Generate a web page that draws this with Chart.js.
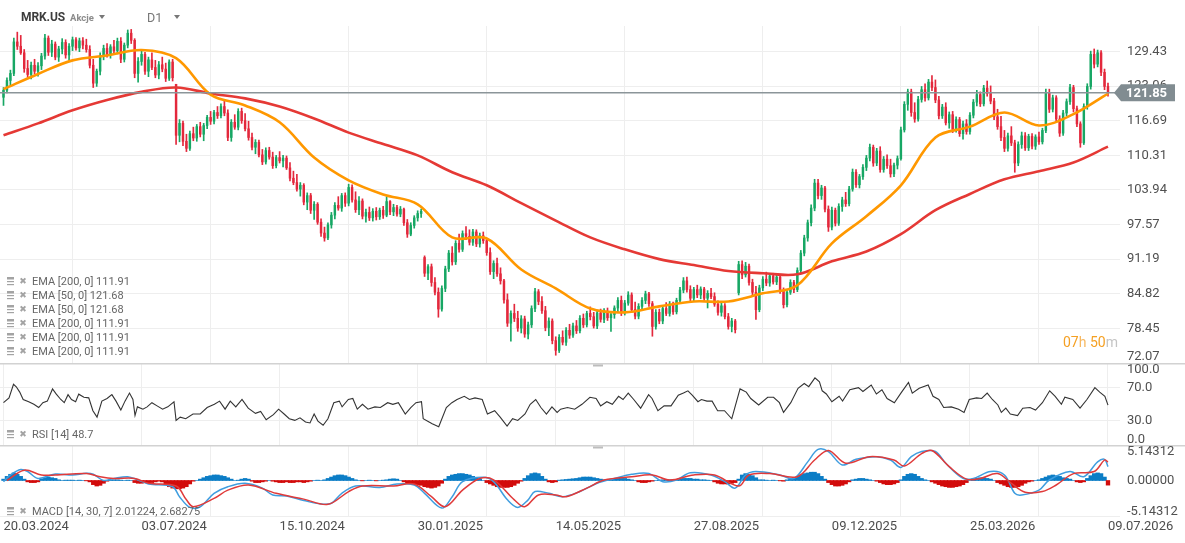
<!DOCTYPE html>
<html>
<head>
<meta charset="utf-8">
<script src="https://cdn.jsdelivr.net/npm/chart.js@4.4.1/dist/chart.umd.min.js"></script>
<style>
  body { margin: 0; background: #fff; width: 1185px; height: 543px; overflow: hidden; position: relative; font-family: Roboto, sans-serif; }
  canvas { position: absolute; left: 0; }
  .hd { position: absolute; white-space: nowrap; }
  .tri { position: absolute; width: 0; height: 0; border-left: 3.5px solid transparent; border-right: 3.5px solid transparent; border-top: 4px solid #777; }
</style>
</head>
<body>
<canvas id="macd" width="1185" height="98" style="top:445px"></canvas>
<canvas id="rsi" width="1185" height="82" style="top:363px"></canvas>
<canvas id="main" width="1185" height="363" style="top:0"></canvas>
<div class="hd" style="left:21px;top:10px;font-size:12px;font-weight:bold;color:#3d3d3d;letter-spacing:-0.1px">MRK.US</div>
<div class="hd" style="left:70px;top:12px;font-size:9.5px;font-weight:bold;color:#8c8c8c">Akcje</div>
<div class="tri" style="left:99px;top:15px"></div>
<div class="hd" style="left:147px;top:10px;font-size:12.5px;color:#777">D1</div>
<div class="tri" style="left:174px;top:15px"></div>
<script>
// ---- data ----
const dateLabels = ["20.03.2024", "03.07.2024", "15.10.2024", "30.01.2025", "14.05.2025", "27.08.2025", "09.12.2025", "25.03.2026", "09.07.2026"];
const dateIdx = [0, 40, 80, 120, 160, 200, 240, 280, 320];
const priceTicks = [72.07, 78.45, 84.82, 91.19, 97.57, 103.94, 110.31, 116.69, 123.06, 129.43];
const lastPrice = 121.85;

// [open, high, low, close]
const candles = [
[121.0,122.8,119.5,122.3],[122.3,124.6,121.8,124.1],[124.1,126.0,123.2,125.4],[125.4,131.9,125.0,131.2],[131.2,133.0,129.8,130.4],[130.4,132.4,128.9,129.2],[129.2,129.8,125.6,126.3],[126.3,127.8,124.7,125.2],[125.2,127.5,124.4,126.9],[126.9,128.0,125.3,125.8],
[125.8,127.4,124.9,126.8],[126.8,129.1,126.1,128.6],[128.6,132.6,128.0,131.9],[131.9,132.3,128.7,129.3],[129.3,131.5,128.5,130.8],[130.8,131.2,127.9,128.4],[128.4,130.4,127.6,129.9],[129.9,131.8,129.0,131.1],[131.1,131.6,128.2,128.8],[128.8,130.9,127.8,130.4],
[130.4,132.1,129.6,131.6],[131.6,132.0,129.7,130.1],[130.1,131.9,129.4,131.4],[131.4,132.0,129.9,130.6],[130.6,131.7,129.3,129.8],[129.8,130.5,126.4,126.9],[126.9,128.0,122.8,123.6],[123.6,126.2,123.0,125.8],[125.8,129.2,125.1,128.7],[128.7,130.6,127.9,130.0],
[130.0,130.9,128.4,128.9],[128.9,130.7,128.2,130.3],[130.3,131.5,129.1,129.6],[129.6,131.9,129.0,131.3],[131.3,132.0,127.4,128.0],[128.0,131.0,127.5,130.6],[130.6,133.4,130.1,132.8],[132.8,133.5,130.9,131.5],[131.5,131.8,124.6,125.4],[125.4,128.3,123.8,127.6],
[127.6,129.5,126.9,128.9],[128.9,129.3,125.2,125.8],[125.8,128.4,124.8,127.9],[127.9,129.2,126.1,126.5],[126.5,127.8,124.6,125.1],[125.1,127.6,124.4,127.0],[127.0,128.4,125.7,126.2],[126.2,127.3,123.9,124.5],[124.5,127.9,124.1,127.5],[127.5,128.0,124.0,124.6],
[123.4,123.4,112.3,114.0],[114.0,116.9,112.8,116.2],[116.2,116.6,112.1,112.9],[112.9,114.2,111.0,111.6],[111.6,114.8,111.2,114.3],[114.3,115.5,113.0,113.5],[113.5,116.0,112.9,115.6],[115.6,116.4,113.7,114.2],[114.2,116.2,113.0,115.8],[115.8,117.7,115.2,117.3],
[117.3,118.4,116.0,116.6],[116.6,118.6,116.1,118.2],[118.2,119.3,117.1,117.6],[117.6,119.8,117.2,119.3],[119.3,120.4,117.6,118.1],[118.1,118.7,113.0,113.6],[113.6,116.9,112.9,116.4],[116.4,117.8,115.1,115.5],[115.5,118.9,115.0,118.4],[118.4,119.0,116.2,116.7],
[116.7,118.0,114.8,115.2],[115.2,116.6,113.1,113.6],[113.6,114.4,111.3,111.8],[111.8,113.2,110.6,112.7],[112.7,113.1,110.0,110.4],[110.4,111.4,108.6,109.1],[109.1,111.7,108.7,111.2],[111.2,111.8,109.6,110.0],[110.0,110.9,107.9,108.4],[108.4,110.3,108.0,109.9],
[109.9,111.0,108.9,109.3],[109.3,110.3,108.2,109.8],[109.8,110.2,107.7,108.0],[108.0,109.0,105.6,106.1],[106.1,107.4,104.9,105.3],[105.3,106.8,103.7,104.1],[104.1,105.3,102.8,104.8],[104.8,105.1,101.2,101.7],[101.7,103.4,100.3,102.9],[102.9,103.3,99.6,100.2],
[100.2,101.8,98.5,101.3],[101.3,101.6,97.6,98.0],[98.0,98.6,95.4,96.0],[96.0,97.1,94.5,95.1],[95.1,97.9,94.8,97.5],[97.5,99.8,96.9,99.3],[99.3,101.6,98.6,101.1],[101.1,102.7,100.2,100.6],[100.6,103.3,100.0,102.9],[102.9,103.4,100.9,101.5],
[101.5,105.0,101.0,104.4],[104.4,104.9,101.7,102.1],[102.1,103.6,99.8,100.3],[100.3,102.7,99.4,101.9],[101.9,102.3,98.6,99.1],[99.1,100.4,98.0,99.8],[99.8,100.8,98.3,98.8],[98.8,100.5,98.2,100.0],[100.0,100.7,98.4,99.0],[99.0,100.6,98.5,100.2],
[100.2,100.9,98.7,99.3],[99.3,102.7,99.0,101.8],[101.8,102.0,99.4,99.9],[99.9,101.3,99.2,100.7],[100.7,101.1,99.1,99.5],[99.5,100.9,99.0,100.4],[100.4,100.6,97.4,97.9],[97.9,98.5,95.2,95.8],[95.8,97.9,95.5,97.4],[97.4,99.2,96.9,98.8],
[98.8,100.1,98.2,99.6],[99.6,100.4,98.9,100.0],[91.5,91.8,88.0,88.6],[88.6,90.2,87.4,89.8],[89.8,90.3,86.2,86.9],[86.9,87.8,84.6,85.1],[85.1,85.9,80.5,82.0],[82.0,86.3,81.6,85.8],[85.8,89.9,85.2,89.4],[89.4,92.8,88.9,92.3],
[92.3,93.5,90.1,90.7],[90.7,94.6,90.2,94.1],[94.1,95.8,92.5,93.0],[93.0,96.4,92.6,95.9],[95.9,97.2,94.8,95.4],[95.4,96.6,93.8,94.3],[94.3,96.7,93.7,96.2],[96.2,96.6,93.5,94.0],[94.0,96.0,93.4,95.5],[95.5,96.2,94.1,94.6],
[94.6,95.0,91.9,92.4],[92.4,93.3,88.4,88.9],[88.9,90.9,87.6,90.4],[90.4,91.4,88.0,88.5],[88.5,89.6,86.6,87.2],[87.2,87.5,83.1,83.7],[83.7,84.8,78.8,79.4],[79.4,81.7,76.1,81.2],[81.2,82.9,79.7,80.3],[80.3,81.6,77.9,78.5],
[78.5,80.8,77.6,80.2],[80.2,80.7,76.8,77.4],[77.4,79.6,76.5,79.1],[79.1,82.6,78.6,82.1],[82.1,85.8,81.5,85.2],[85.2,85.6,82.8,83.4],[83.4,84.3,81.2,81.7],[81.7,82.5,78.0,78.6],[78.6,80.4,77.1,79.8],[79.8,80.2,75.6,76.2],
[76.2,76.9,73.5,74.4],[74.4,77.3,74.0,76.8],[76.8,78.0,75.4,75.9],[75.9,78.6,75.3,78.1],[78.1,79.2,76.6,77.2],[77.2,79.4,76.8,78.9],[78.9,79.9,77.5,78.0],[78.0,80.8,77.6,80.3],[80.3,81.1,78.6,79.1],[79.1,81.6,78.7,81.2],
[81.2,82.4,80.0,80.6],[80.6,81.4,78.5,78.9],[78.9,81.8,78.4,81.3],[81.3,82.0,79.6,80.1],[80.1,82.1,79.5,81.6],[81.6,82.2,79.9,80.4],[80.4,81.5,77.9,81.0],[81.0,82.6,80.3,82.2],[82.2,84.1,81.5,83.6],[83.6,84.4,80.8,81.3],
[81.3,83.6,80.9,83.1],[83.1,85.2,82.7,84.6],[84.6,85.0,81.4,81.9],[81.9,83.3,80.2,80.7],[80.7,83.0,80.2,82.5],[82.5,84.1,81.8,83.6],[83.6,85.3,83.0,84.8],[84.8,85.1,82.5,83.0],[83.0,83.4,77.0,78.8],[78.8,81.9,78.3,81.4],
[81.4,82.0,79.3,79.8],[79.8,82.5,79.3,82.1],[82.1,83.2,80.8,81.2],[81.2,83.4,80.7,82.9],[82.9,83.3,81.0,81.5],[81.5,84.0,81.1,83.6],[83.6,86.0,83.2,85.5],[85.5,87.8,85.0,87.2],[87.2,87.9,85.1,85.6],[85.6,86.3,83.5,84.0],
[84.0,86.0,83.4,85.6],[85.6,86.4,84.1,84.6],[84.6,86.1,83.9,85.7],[85.7,86.0,83.6,84.0],[84.0,85.4,82.2,84.9],[84.9,85.8,83.9,84.3],[84.3,85.0,82.5,82.9],[82.9,83.5,80.9,81.4],[81.4,83.1,80.7,82.6],[82.6,83.0,80.2,80.6],
[80.6,81.2,78.3,78.8],[78.8,80.3,77.8,79.8],[79.8,80.1,77.6,78.2],[85.0,90.8,84.6,90.2],[90.2,90.9,87.6,88.3],[88.3,90.6,87.9,89.9],[89.9,90.3,86.4,86.9],[86.9,87.5,84.6,85.1],[85.1,86.2,80.1,81.9],[81.9,86.4,81.5,85.9],
[85.9,88.0,85.4,87.5],[87.5,88.8,86.3,86.8],[86.8,88.5,86.2,88.1],[88.1,88.6,86.6,87.0],[87.0,88.4,86.5,87.9],[87.9,88.2,84.9,85.3],[85.3,85.9,82.2,82.8],[82.8,85.6,82.4,85.1],[85.1,87.4,84.7,86.9],[86.9,87.3,85.0,85.6],
[85.6,89.6,85.2,89.1],[89.1,92.8,88.6,92.3],[92.3,95.6,91.8,95.1],[95.1,98.4,94.5,97.9],[97.9,101.2,97.3,100.6],[100.6,105.9,100.1,105.2],[105.2,105.9,102.3,102.9],[102.9,104.8,102.2,104.3],[104.3,104.6,99.9,100.4],[100.4,101.0,96.3,97.1],
[97.1,100.8,96.6,100.2],[100.2,100.6,97.3,97.8],[97.8,101.4,97.4,100.9],[100.9,102.6,100.0,102.1],[102.1,103.5,100.9,101.4],[101.4,104.6,101.0,104.1],[104.1,107.8,103.7,107.2],[107.2,107.7,104.4,104.9],[104.9,106.8,104.3,106.4],[106.4,108.6,105.9,108.1],
[108.1,110.3,107.5,109.8],[109.8,112.4,109.3,111.8],[111.8,112.2,108.3,108.9],[108.9,111.6,108.4,111.1],[111.1,111.9,107.2,107.7],[107.7,110.1,107.2,109.6],[109.6,110.4,107.9,108.4],[108.4,109.6,106.3,106.9],[106.9,108.9,106.4,108.5],[108.5,110.2,107.8,109.7],
[109.7,115.5,109.4,115.0],[115.0,120.2,114.6,119.7],[119.7,122.5,118.6,122.0],[122.0,122.5,117.5,118.2],[118.2,120.0,116.4,117.0],[117.0,121.2,116.6,120.6],[120.6,123.0,120.1,122.4],[122.4,123.5,120.3,120.9],[120.9,124.3,120.5,123.8],[123.8,125.0,122.2,122.8],
[122.8,124.2,120.0,120.5],[120.5,121.2,117.0,117.6],[117.6,119.7,117.1,119.2],[119.2,120.0,115.9,116.3],[116.3,118.3,115.3,117.8],[117.8,118.4,114.5,115.1],[115.1,117.4,114.6,116.9],[116.9,117.3,113.8,114.3],[114.3,116.6,113.3,116.1],[116.1,116.9,114.2,114.7],
[114.7,118.2,114.2,117.7],[117.7,120.6,117.2,120.1],[120.1,122.3,119.4,121.5],[121.5,122.0,119.3,119.8],[119.8,123.2,119.4,122.7],[122.7,124.0,121.2,121.7],[121.7,123.1,119.8,120.3],[120.3,120.8,116.9,117.4],[117.4,118.8,115.1,115.6],[115.6,117.5,113.0,113.6],
[113.6,114.9,111.0,111.6],[111.6,114.4,111.1,113.9],[113.9,115.6,112.1,112.6],[112.6,113.1,107.2,108.9],[108.9,112.8,108.4,112.3],[112.3,114.6,111.6,113.9],[113.9,114.5,111.2,111.7],[111.7,114.2,111.2,113.8],[113.8,114.3,111.5,112.0],[112.0,114.1,111.4,113.7],
[113.7,114.6,112.3,112.8],[112.8,115.3,112.4,114.9],[114.9,122.5,114.5,121.8],[121.8,122.5,118.2,118.8],[118.8,121.4,118.3,120.9],[120.9,121.3,116.4,117.0],[117.0,117.6,113.8,114.4],[114.4,118.6,114.0,118.1],[118.1,120.7,117.6,120.2],[120.2,123.4,119.7,122.8],
[122.8,123.2,118.3,118.9],[118.9,119.4,115.6,116.1],[116.1,116.5,111.8,112.6],[112.6,119.8,112.3,119.3],[119.3,123.5,118.8,123.0],[123.0,129.5,122.5,128.9],[128.9,129.9,126.4,127.1],[127.1,129.7,126.6,129.2],[129.2,129.6,125.0,125.6],[125.6,126.2,122.4,123.0],
[123.0,123.6,121.2,121.85]
];

// moving averages, sampled every 10 candles
const emaIdx = [0,10,20,30,40,50,60,70,80,90,100,110,120,130,140,150,160,170,180,190,200,210,220,230,240,250,260,270,280,290,300,310,320];
const ema50 = [122.5,125.3,127.8,128.7,129.7,128.2,121.5,119.5,116.4,109.9,105.7,103.1,101.3,95.2,95.0,89.3,85.8,82.1,81.4,82.5,83.4,83.4,84.9,86.4,94.1,99.1,104.8,113.6,115.6,118.2,115.8,117.9,121.68];
const ema200 = [114.0,116.2,118.6,120.5,122.0,122.8,121.7,120.8,119.3,117.1,114.5,112.4,110.3,107.2,104.8,101.5,98.3,95.2,93.0,91.2,90.1,89.0,88.6,88.4,90.8,92.6,95.8,100.2,103.2,105.9,107.4,109.0,111.91];

// RSI [14], positions in candle units
const rsiIdx = [0,1.6,2.9,3.7,4.7,5.7,7.3,8.8,10.2,11.4,12.7,14.2,15.3,16.6,17.6,18.7,19.7,20.9,21.8,23.3,24.7,25.9,27.1,28.5,30,31.4,32.6,34,35.2,36.5,37.5,38.1,38.8,40.4,41.6,43,44.5,46.1,47.6,49.4,50,51.2,52.8,54.9,57,59,61.1,62.6,64.2,65.7,67.3,69.1,70.9,73,74.5,76.1,78.2,79.7,81.3,82.8,84.4,85.9,87.5,88.8,90,91.1,92.6,94,95.7,97.3,98.1,99.9,101.2,102.5,104,105.6,107.6,109.2,111.3,112.8,114.4,116.4,118,119.5,121.1,121.6,124.2,126.1,128.3,129.9,131.4,133.5,135,136.6,138.7,140.2,142.3,143.9,145.9,147.5,149,151.1,152.6,154.2,155.7,157.3,158.9,160.4,161.4,163.4,165.5,167.6,169.9,171.7,173,174.8,176.4,178.2,179.5,181,182.6,184.6,186.9,187.9,189.6,191.4,193.4,195.5,197,198.3,199.6,201.2,202.2,203.8,205.3,206.9,208.9,211,213.4,215.2,216.5,218.8,221.4,223.1,224.8,226,228.1,230.2,232,233.3,235.1,236.4,237.2,238.4,240,242.1,243.1,245.2,247.7,249,251.4,252.9,254.5,256,258.1,260,262.2,263.3,265.3,267.9,269.3,271,272.4,274.6,276.7,278.3,279.8,281.9,283.4,285,286.5,288.1,289.1,290.4,291.7,293.8,295.3,297.4,299,301,303.1,304.7,306.5,307.5,309.8,311.9,313.9,316.2,317.6,319.1,320];
const rsiVal = [51.6,57.5,74,71,64.5,55.5,52.8,49.6,45.7,51.6,53.5,68.4,62,55.5,51.6,61.4,55.5,52.8,62,58.2,57.5,41.8,34,53.5,56.7,61.4,53.5,42.6,53.5,63.3,55.5,35.9,46.5,43.7,46.5,51.6,47.7,43.7,46.5,52.8,30,34,32,37.8,37.8,45.7,49.6,53.5,43.7,53.5,46.5,55.5,44.9,38.6,41,30.8,37,43.7,37.8,32,30,33.2,28,26.9,37.8,29.2,24.1,32,51.6,53.5,46.5,55.5,56.7,43.7,49.6,43.7,46.5,45.7,51.6,49.6,51.6,37.8,45.7,51.6,52.8,32,26,22.2,45.7,51.6,55.5,59.4,55.5,57.5,55.5,37.8,41.8,34,23,32,30,37.8,49.6,55.5,45.7,37.8,46.5,39.8,43.7,45.7,43.7,49.6,58.2,56.7,47.7,52.8,49.6,59.4,55.5,63.3,55.5,44.9,61.4,56.7,41.8,47.7,47.7,60.6,63.3,66.1,60.6,52.8,55.5,53.5,53.5,41.8,41.8,32,68.4,64.5,56.7,48.8,58.2,58.2,51.6,39.8,51.6,69.2,75,71.2,81.8,77,66.1,62.2,52.8,59.4,53.5,67.3,70,65.3,73.1,62.2,67.3,56.7,51.6,63.3,76.3,63.3,69.2,73.1,59.4,55.5,45.7,46.5,43.7,39.8,55.5,57.5,56.7,63.3,55.5,48.8,39.8,44.9,37.8,35.9,44.9,45.7,42.6,51.6,66.1,59.4,49.6,58.2,55.5,44.9,55.5,70,64.5,59.4,48.7];

// MACD [14, 30, 7]
const macdIdx = [0,2,5,7,10,15,20,24,26,29,32,36,39,42,49,51,54,57,61,65,70,75,78,82,87,92,95,98,102,109,114,119,122,127,130,133,139,142,146,149,152,154,158,162,167,172,177,182,187,191,195,199,205,209,212,215,218,225,229,233,236,239,243,247,253,257,260,263,266,270,273,278,281,286,290,293,295,300,303,309,313,317,319,320];
const macdVal = [-0.17,0.8,1.6,1.3,0.3,0.94,0.8,1.04,0.9,0,0.3,0.55,0.07,-0.5,-0.9,-2.35,-3.9,-3.8,-1.86,-0.9,-0.4,-1.1,-2.1,-2.25,-2.9,-3.4,-3.3,-1.86,-0.8,-1.0,-0.5,-0.65,-1.86,-4.0,-2.35,-0.17,0.46,-0.17,-2.8,-3.9,-2.8,-1.6,-1.86,-2.35,-1.6,-0.4,0.3,0.9,1.0,-0.17,0.07,1.13,0.8,-0.17,-1.1,0.8,1.3,0.8,0.3,2.7,4.5,4.2,2.25,3.07,3.45,2.97,1.9,3.45,4.2,4.2,2.5,0.3,0.3,1.3,0.8,-1.86,-2.1,-1.4,0.07,1.3,0.55,2.7,3.07,2.01224];
const sigIdx = [1,6,11,15,24,28,32,38,42,50,53,55,61,65,71,79,87,94,100,104,113,119,124,128,133,138,142,148,151,155,160,163,169,174,182,188,193,200,206,213,216,222,230,235,239,244,251,258,261,266,269,274,279,283,288,292,296,301,305,310,316,319,320];
const sigVal = [0.0,1.5,0.8,0.8,1.0,0.55,0.3,0.3,-0.4,-0.8,-2.8,-3.8,-2.6,-1.4,-0.65,-1.86,-2.7,-3.45,-1.6,-0.8,-0.8,-0.5,-2.35,-3.8,-1.4,0.3,0.1,-2.8,-3.8,-2.1,-2.1,-2.35,-1.1,0.07,0.55,0.8,0.07,0.8,0.8,-0.8,0.8,1.0,0.55,2.97,4.35,2.5,3.45,2.97,2.1,3.9,4.35,2.0,0.2,0.3,1.0,-0.4,-1.7,-1.6,-0.65,1.0,1.3,2.97,2.68275];
const hist = [
0.2,0.6,0.9,1.1,0.9,0.6,0.2,-0.2,-0.3,-0.3,
-0.2,0.2,0.4,0.5,0.4,0.3,0.1,0.0,0.05,0.05,
0.05,0.0,0.05,0.0,-0.05,-0.2,-0.6,-0.8,-0.7,-0.4,
-0.1,0.05,0.1,0.1,0.05,0.0,0.05,0.0,-0.3,-0.4,
-0.4,-0.3,-0.35,-0.3,-0.2,-0.1,-0.2,-0.6,-0.9,-1.1,
-1.2,-1.2,-1.1,-0.9,-0.5,-0.1,0.0,0.2,0.4,0.6,
0.7,0.8,0.8,0.7,0.6,0.4,0.2,0.0,0.05,0.2,
0.3,0.2,-0.1,-0.3,-0.3,-0.2,-0.1,0.0,-0.1,-0.2,
-0.3,-0.3,-0.2,-0.3,-0.3,-0.2,-0.2,-0.3,-0.2,-0.1,
0.0,0.05,0.0,0.1,0.3,0.5,0.7,0.8,0.8,0.7,
0.5,0.3,0.1,0.0,-0.05,0.0,0.05,0.0,-0.05,0.0,
0.05,0.1,0.2,0.25,0.2,0.0,-0.2,-0.4,-0.5,-0.5,
-0.6,-0.7,-0.9,-1.0,-1.1,-1.0,-0.8,-0.4,0.2,0.6,
0.8,0.9,1.0,1.0,0.9,0.8,0.6,0.4,0.2,0.0,
-0.3,-0.5,-0.7,-0.9,-1.0,-1.0,-1.0,-0.9,-0.7,-0.4,
-0.1,0.3,0.7,1.0,1.1,1.0,0.6,0.2,-0.2,-0.3,
-0.2,0.05,0.1,0.15,0.2,0.25,0.3,0.4,0.5,0.5,
0.5,0.4,0.3,0.2,0.1,0.05,0.1,0.2,0.3,0.3,
0.3,0.2,0.1,0.0,-0.2,-0.3,-0.3,-0.2,-0.1,0.0,
0.05,0.1,0.05,0.1,0.0,0.1,0.2,0.3,0.3,0.3,
0.2,0.2,0.1,0.1,0.05,0.0,-0.2,-0.4,-0.5,-0.5,
-0.5,-0.4,-0.3,0.2,0.8,1.0,0.9,0.7,0.4,0.1,
0.1,0.05,0.0,0.05,0.0,-0.05,-0.1,0.1,0.2,0.3,
0.5,0.8,1.0,1.1,1.2,1.2,1.0,0.6,0.2,-0.3,
-0.6,-0.8,-0.8,-0.7,-0.5,-0.2,0.1,0.2,0.3,0.3,
0.2,0.1,0.0,-0.1,-0.3,-0.5,-0.6,-0.6,-0.5,-0.3,
0.1,0.6,0.9,1.0,0.9,0.6,0.3,0.1,0.0,-0.2,
-0.4,-0.6,-0.8,-0.9,-1.0,-1.0,-0.9,-0.8,-0.6,-0.3,
0.0,0.2,0.3,0.4,0.4,0.3,0.2,0.0,-0.3,-0.5,
-0.7,-0.9,-1.0,-1.0,-0.9,-0.7,-0.4,-0.2,-0.1,0.0,
0.1,0.3,0.5,0.7,0.8,0.7,0.6,0.4,0.3,0.2,
0.0,-0.2,-0.3,-0.2,0.3,0.7,1.0,1.1,1.0,0.5,
-0.67
];

const emaLegend = [
    ["EMA [200, 0]", ema200], ["EMA [50, 0]", ema50], ["EMA [50, 0]", ema50],
    ["EMA [200, 0]", ema200], ["EMA [200, 0]", ema200], ["EMA [200, 0]", ema200],
];

// ---- shared look ----
const UP = "#17a764";
const DOWN = "#e3283c";
const GRID = "#eeeeee";
const AXIS_W = 65;
const X_MIN = -1.014;
const X_MAX = 323.48;

const pts = (xs, ys) => xs.map((x, k) => ({ x, y: ys[k] }));
const clamp = (v, lo, hi) => Math.max(lo, Math.min(hi, v));

function xScale() {
    return {
        type: "linear",
        min: X_MIN,
        max: X_MAX,
        offset: false,
        grid: { color: GRID, drawTicks: false },
        border: { display: false },
        ticks: { display: false },
        afterBuildTicks: (s) => { s.ticks = dateIdx.map((v) => ({ value: v })); },
    };
}

function yScale(min, max, gridVals) {
    return {
        position: "right",
        min, max,
        grid: { color: GRID, drawTicks: false },
        border: { display: false },
        ticks: { display: false },
        afterBuildTicks: (s) => { s.ticks = gridVals.map((v) => ({ value: v })); },
        afterFit: (s) => { s.width = AXIS_W; },
    };
}

const baseOptions = {
    responsive: false,
    animation: false,
    events: [],
    plugins: { legend: { display: false }, tooltip: { enabled: false } },
};

function axisLabels(chart, vals, fmt, padTop, padBottom) {
    const { ctx, chartArea: a, scales: { y } } = chart;
    ctx.save();
    ctx.font = "13px Roboto";
    ctx.fillStyle = "#505050";
    ctx.textAlign = "left";
    ctx.textBaseline = "middle";
    vals.forEach((v) => {
        const py = clamp(y.getPixelForValue(v), a.top + padTop, a.bottom - padBottom);
        ctx.fillText(fmt(v), a.right + 7, py);
    });
    ctx.restore();
}

function paneIcons(ctx, y) {
    ctx.fillStyle = "#a3a3a3";
    ctx.fillRect(7, y - 5, 7, 2.5);
    ctx.fillRect(7, y - 1, 7, 1.2);
    ctx.fillRect(7, y + 2, 7, 1.2);
    ctx.font = "9px 'DejaVu Sans'";
    ctx.textAlign = "center";
    ctx.textBaseline = "middle";
    ctx.fillText("\u2716", 23, y);
}

function paneLabel(ctx, y, text) {
    ctx.save();
    paneIcons(ctx, y);
    ctx.font = "11px Roboto";
    ctx.fillStyle = "#666";
    ctx.textAlign = "left";
    ctx.fillText(text, 32, y);
    ctx.restore();
}

function paneSeparator(chart) {
    const { ctx, width } = chart;
    ctx.save();
    ctx.fillStyle = "#d2d2d2";
    ctx.fillRect(0, 0, width, 1.5);
    ctx.fillStyle = "#bdbdbd";
    ctx.fillRect(593, 1.5, 10, 2);
    ctx.restore();
}

// ---- A. PRICE PANE ----
const candleColors = candles.map((c) => (c[3] >= c[0] ? UP : DOWN));

const priceOverlay = {
    id: "priceOverlay",
    afterDatasetsDraw(chart) {
        const { ctx, chartArea: a, scales: { y } } = chart;
        const py = y.getPixelForValue(lastPrice);
        ctx.save();
        ctx.strokeStyle = "#8b9599";
        ctx.lineWidth = 1.5;
        ctx.beginPath();
        ctx.moveTo(a.left, py);
        ctx.lineTo(a.right - 5, py);
        ctx.stroke();
        ctx.restore();
    },
    afterDraw(chart) {
        const { ctx, chartArea: a, scales: { y } } = chart;
        axisLabels(chart, priceTicks, (v) => v.toFixed(2), 7, 6);

        // last price tag
        const py = y.getPixelForValue(lastPrice);
        ctx.save();
        ctx.fillStyle = "#818c91";
        ctx.beginPath();
        ctx.moveTo(a.right - 6, py);
        ctx.lineTo(a.right + 1, py - 8.5);
        ctx.lineTo(1175, py - 8.5);
        ctx.lineTo(1175, py + 8.5);
        ctx.lineTo(a.right + 1, py + 8.5);
        ctx.closePath();
        ctx.fill();
        ctx.font = "bold 13px Roboto";
        ctx.fillStyle = "#fff";
        ctx.textAlign = "left";
        ctx.textBaseline = "middle";
        ctx.fillText(lastPrice.toFixed(2), a.right + 6, py + 1);

        // countdown
        ctx.font = "14px Roboto";
        let cx = 1063;
        [["07", "#f5a023"], ["h ", "#f7b860"], ["50", "#f5a023"], ["m", "#c4c4c4"]].forEach(([t, c]) => {
            ctx.fillStyle = c;
            ctx.fillText(t, cx, 343);
            cx += ctx.measureText(t).width;
        });
        ctx.restore();

        // indicator legend
        emaLegend.forEach(([name, arr], k) => {
            paneLabel(ctx, 282 + k * 14, name + " " + arr[arr.length - 1].toFixed(2));
        });
    },
};

new Chart(document.getElementById("main"), {
    type: "bar",
    data: {
        datasets: [
            { type: "line", data: pts(emaIdx, ema50), borderColor: "#ff9800", borderWidth: 2.6, pointRadius: 0, tension: 0.35, order: 0 },
            { type: "line", data: pts(emaIdx, ema200), borderColor: "#e53935", borderWidth: 2.6, pointRadius: 0, tension: 0.35, order: 1 },
            {
                data: candles.map((c, i) => ({ x: i, y: [Math.min(c[0], c[3]), Math.max(c[0], c[3])] })),
                backgroundColor: candleColors, barThickness: 1.8, minBarLength: 1, grouped: false, order: 2,
            },
            {
                data: candles.map((c, i) => ({ x: i, y: [c[2], c[1]] })),
                backgroundColor: candleColors, barThickness: 1, grouped: false, order: 3,
            },
        ],
    },
    options: {
        ...baseOptions,
        layout: { padding: { top: 26, left: 0, right: 0, bottom: 0 } },
        scales: {
            x: xScale(),
            y: yScale(72.07, 134.13, priceTicks),
        },
    },
    plugins: [priceOverlay],
});

// ---- B. RSI PANE ----
const rsiOverlay = {
    id: "rsiOverlay",
    afterDraw(chart) {
        paneSeparator(chart);
        axisLabels(chart, [100, 70, 30, 0], (v) => v.toFixed(1), 7, 5);
        paneLabel(chart.ctx, 72, "RSI [14] " + rsiVal[rsiVal.length - 1].toFixed(1));
    },
};

new Chart(document.getElementById("rsi"), {
    type: "line",
    data: {
        datasets: [
            { data: pts(rsiIdx, rsiVal), borderColor: "#333333", borderWidth: 1.1, pointRadius: 0, tension: 0 },
        ],
    },
    options: {
        ...baseOptions,
        layout: { padding: 0 },
        scales: { x: xScale(), y: yScale(0, 100, [30, 70]) },
    },
    plugins: [rsiOverlay],
});

// ---- C. MACD PANE ----
const MACD_MAX = 5.14312;

const macdOverlay = {
    id: "macdOverlay",
    afterDraw(chart) {
        const { ctx, chartArea: a, scales: { x } } = chart;
        paneSeparator(chart);
        axisLabels(chart, [MACD_MAX, 0, -MACD_MAX], (v) => v.toFixed(5), 7, 4);
        paneLabel(ctx, 67, "MACD [14, 30, 7] " + macdVal[macdVal.length - 1].toFixed(5) + ", " + sigVal[sigVal.length - 1].toFixed(5));

        ctx.save();
        ctx.font = "13px Roboto";
        ctx.fillStyle = "#4d4d4d";
        ctx.textAlign = "left";
        ctx.textBaseline = "middle";
        dateIdx.forEach((v, k) => ctx.fillText(dateLabels[k], x.getPixelForValue(v), a.bottom + 11));
        ctx.restore();
    },
};

new Chart(document.getElementById("macd"), {
    type: "bar",
    data: {
        datasets: [
            { type: "line", data: pts(sigIdx, sigVal), borderColor: "#e03a3a", borderWidth: 1.5, pointRadius: 0, tension: 0.35, order: 0 },
            { type: "line", data: pts(macdIdx, macdVal), borderColor: "#3f9ddf", borderWidth: 1.5, pointRadius: 0, tension: 0.35, order: 1 },
            {
                data: hist.map((v, i) => ({ x: i, y: v })),
                backgroundColor: hist.map((v) => (v >= 0 ? "#0b7dc6" : "#d20b0b")),
                barThickness: 3.7, grouped: false, order: 2,
            },
        ],
    },
    options: {
        ...baseOptions,
        layout: { padding: { top: 0, left: 0, right: 0, bottom: 27 } },
        scales: { x: xScale(), y: yScale(-MACD_MAX, MACD_MAX, [-MACD_MAX]) },
    },
    plugins: [macdOverlay],
});
</script>
</body>
</html>
